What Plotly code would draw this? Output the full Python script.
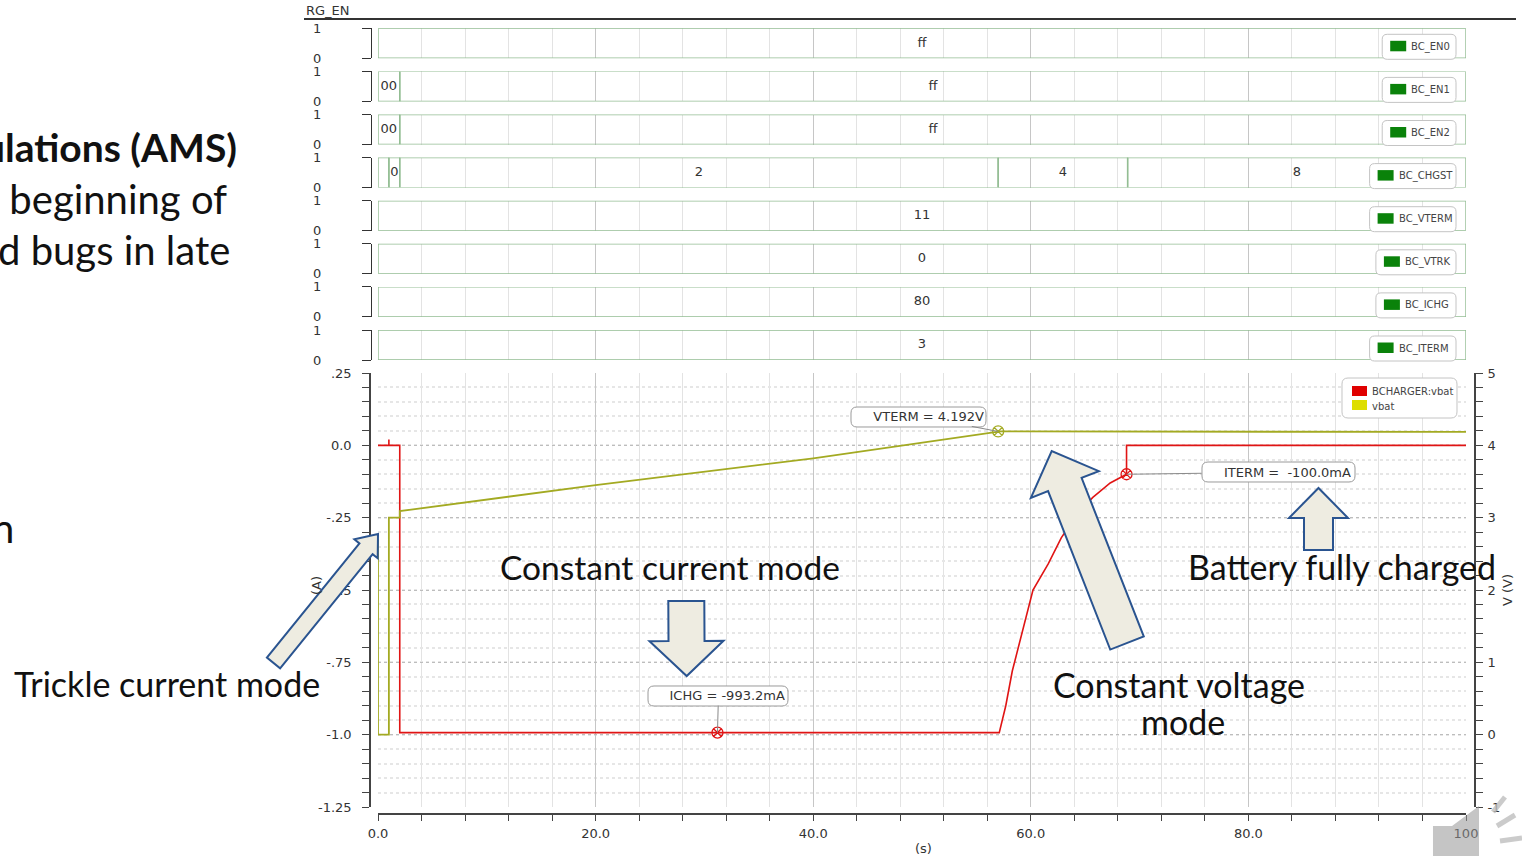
import math
import plotly.graph_objects as go

# ---------------- data ----------------
# analog: charge current (left axis, A) and battery voltage (right axis, V)
t_ichg = [0, 1, 1, 1, 2, 2, 57.1, 57.7, 58.3, 59.3, 60.2, 61.6, 62.8, 64.3, 65.7, 67.3, 68.8, 68.8, 100]
i_chg = [0, 0, 0.02, 0, 0, -0.993, -0.993, -0.90, -0.78, -0.63, -0.50, -0.41, -0.32, -0.235, -0.18, -0.13, -0.10, 0.0, 0.0]

t_vbat = [0, 0, 1, 1, 2, 2, 20, 40, 57.2, 60.5, 60.5, 100]
v_bat = [2.7, 0, 0, 3.0, 3.0, 3.09, 3.45, 3.82, 4.192, 4.192, 4.185, 4.185]

# measurement markers
ichg_mark = (31.2, -0.993)
iterm_mark = (68.8, -0.100)
vterm_mark = (57.0, 4.192)
ichg_label = "ICHG = -993.2mA"
iterm_label = "ITERM =  -100.0mA"
vterm_label = "VTERM = 4.192V"

# digital buses
bus_names = ["BC_EN0", "BC_EN1", "BC_EN2", "BC_CHGST", "BC_VTERM", "BC_VTRK", "BC_ICHG", "BC_ITERM"]
bus_edges = [[0, 100], [0, 2, 100], [0, 2, 100], [0, 1, 2, 57.0, 68.9, 100],
             [0, 100], [0, 100], [0, 100], [0, 100]]
bus_values = [["ff"], ["00", "ff"], ["00", "ff"], ["", "0", "2", "4", "8"],
              ["11"], ["0"], ["80"], ["3"]]

x_tickvals = [0, 20, 40, 60, 80, 100]
x_ticktext = ["0.0", "20.0", "40.0", "60.0", "80.0", "100"]
yl_tickvals = [0.25, 0, -0.25, -0.5, -0.75, -1.0, -1.25]
yl_ticktext = [".25", "0.0", "-.25", "-.5", "-.75", "-1.0", "-1.25"]
yr_tickvals = [5, 4, 3, 2, 1, 0, -1]
yr_ticktext = ["5", "4", "3", "2", "1", "0", "-1"]

# ---------------- geometry helpers ----------------
W, H = 1522, 856


def fx(p):
    return p / W


def fy(p):
    return 1 - p / H


def pt(x, y):
    return f"{fx(x):.5f},{fy(y):.5f}"


def rrect(x0, y0, x1, y1, r):
    return (f"M {pt(x0 + r, y0)} L {pt(x1 - r, y0)} Q {pt(x1, y0)} {pt(x1, y0 + r)} "
            f"L {pt(x1, y1 - r)} Q {pt(x1, y1)} {pt(x1 - r, y1)} L {pt(x0 + r, y1)} "
            f"Q {pt(x0, y1)} {pt(x0, y1 - r)} L {pt(x0, y0 + r)} Q {pt(x0, y0)} {pt(x0 + r, y0)} Z")


def block_arrow(tail, tip, shaft_w, head_w, head_len):
    tx, ty = tail
    px_, py_ = tip
    dx, dy = px_ - tx, py_ - ty
    L = math.hypot(dx, dy)
    ux, uy = dx / L, dy / L
    nx, ny = -uy, ux
    bx, by = px_ - ux * head_len, py_ - uy * head_len
    pts = [
        (tx + nx * shaft_w / 2, ty + ny * shaft_w / 2),
        (bx + nx * shaft_w / 2, by + ny * shaft_w / 2),
        (bx + nx * head_w / 2, by + ny * head_w / 2),
        (px_, py_),
        (bx - nx * head_w / 2, by - ny * head_w / 2),
        (bx - nx * shaft_w / 2, by - ny * shaft_w / 2),
        (tx - nx * shaft_w / 2, ty - ny * shaft_w / 2),
    ]
    return "M " + " L ".join(pt(x, y) for x, y in pts) + " Z"


CHART_FONT = "DejaVu Sans"
SLIDE_FONT = "Lato"
RED = "#e01414"
OLIVE = "#a3aa22"
BUS_GREEN = "#93bd93"

fig = go.Figure()

# ---------------- analog traces ----------------
fig.add_trace(go.Scatter(x=t_ichg, y=i_chg, mode="lines", line=dict(color=RED, width=1.6),
                         xaxis="x", yaxis="y", hoverinfo="skip"))
fig.add_trace(go.Scatter(x=t_vbat, y=v_bat, mode="lines", line=dict(color=OLIVE, width=1.8),
                         xaxis="x", yaxis="y2", hoverinfo="skip"))
fig.add_trace(go.Scatter(x=[ichg_mark[0], iterm_mark[0]], y=[ichg_mark[1], iterm_mark[1]], mode="markers",
                         marker=dict(symbol="circle-x-open", size=11, color=RED, line=dict(width=1.3)),
                         xaxis="x", yaxis="y", hoverinfo="skip"))
fig.add_trace(go.Scatter(x=[vterm_mark[0]], y=[vterm_mark[1]], mode="markers",
                         marker=dict(symbol="circle-x-open", size=11, color=OLIVE, line=dict(width=1.3)),
                         xaxis="x", yaxis="y2", hoverinfo="skip"))

# ---------------- digital bus traces ----------------
row_top0, row_pitch, row_h = 28.3, 43.1, 30.0
layout_axes = {}
for i, (name, edges, vals) in enumerate(zip(bus_names, bus_edges, bus_values)):
    ax_id = i + 3
    yname = f"y{ax_id}"
    xs, ys, tx, tt = [], [], [], []
    for k in range(len(vals)):
        a, b = edges[k], edges[k + 1]
        xs += [a, b, b, a, a, None]
        ys += [0, 0, 1, 1, 0, None]
        tx.append((a + b) / 2)
        tt.append(vals[k])
    fig.add_trace(go.Scatter(x=xs, y=ys, mode="lines", line=dict(color=BUS_GREEN, width=1.4),
                             xaxis="x", yaxis=yname, hoverinfo="skip"))
    fig.add_trace(go.Scatter(x=tx, y=[0.5] * len(tx), text=tt, mode="text",
                             textfont=dict(family=CHART_FONT, size=13, color="#333"),
                             xaxis="x", yaxis=yname, hoverinfo="skip"))
    top = row_top0 + i * row_pitch
    layout_axes[f"yaxis{ax_id}"] = dict(
        domain=[fy(top + row_h), fy(top)], range=[0, 1], anchor="free", position=fx(371),
        tickmode="array", tickvals=[0, 1], ticktext=["0", "1"], ticks="outside", ticklen=9,
        tickcolor="#333", showline=True, linecolor="#333", linewidth=1.2, showgrid=False,
        zeroline=False, ticklabelstandoff=38, tickfont=dict(family=CHART_FONT, size=13, color="#333"),
        automargin=False, fixedrange=True)

shapes = []
annotations = []

# legends on digital rows
for i, name in enumerate(bus_names):
    top = row_top0 + i * row_pitch
    tw = len(name) * 6.3
    x1 = 1456
    x0 = x1 - (tw + 36)
    y0, y1 = top + 6, top + 31
    shapes.append(dict(type="path", path=rrect(x0, y0, x1, y1, 5), xref="paper", yref="paper",
                       line=dict(color="#c4c4c4", width=1), fillcolor="white", layer="above"))
    shapes.append(dict(type="rect", xref="paper", yref="paper", x0=fx(x0 + 8), x1=fx(x0 + 24),
                       y0=fy(y0 + 17), y1=fy(y0 + 6.5), fillcolor="#0a820a", line=dict(width=0),
                       layer="above"))
    annotations.append(dict(text=name, xref="paper", yref="paper", x=fx(x0 + 27), y=fy(y0 + 12.5),
                            xanchor="left", yanchor="middle", showarrow=False,
                            font=dict(family=CHART_FONT, size=10, color="#444")))

# main legend
shapes.append(dict(type="path", path=rrect(1342, 378, 1457, 418, 6), xref="paper", yref="paper",
                   line=dict(color="#c4c4c4", width=1), fillcolor="white", layer="above"))
shapes.append(dict(type="rect", xref="paper", yref="paper", x0=fx(1352), x1=fx(1367), y0=fy(396), y1=fy(386),
                   fillcolor="#e00000", line=dict(width=0), layer="above"))
shapes.append(dict(type="rect", xref="paper", yref="paper", x0=fx(1352), x1=fx(1367), y0=fy(410), y1=fy(400),
                   fillcolor="#dede00", line=dict(width=0), layer="above"))
annotations.append(dict(text="BCHARGER:vbat", xref="paper", yref="paper", x=fx(1370), y=fy(392),
                        xanchor="left", yanchor="middle", showarrow=False,
                        font=dict(family=CHART_FONT, size=10, color="#444")))
annotations.append(dict(text="vbat", xref="paper", yref="paper", x=fx(1370), y=fy(406),
                        xanchor="left", yanchor="middle", showarrow=False,
                        font=dict(family=CHART_FONT, size=10, color="#444")))

# measurement callouts (rounded boxes drawn as shapes behind transparent annotation boxes)
for bx0, by0, bx1, by1 in [(851, 407, 986, 427), (648, 686, 788, 706), (1202, 462, 1355, 482)]:
    shapes.append(dict(type="path", path=rrect(bx0, by0, bx1, by1, 6), xref="paper", yref="paper",
                       line=dict(color="#9a9a9a", width=1), fillcolor="white", layer="above"))
callout = dict(showarrow=True, arrowhead=0, arrowwidth=1, arrowcolor="#8a8a8a",
               bordercolor="rgba(0,0,0,0)", borderwidth=1, borderpad=2, bgcolor="rgba(0,0,0,0)",
               align="right", font=dict(family=CHART_FONT, size=13, color="#333"))
annotations.append(dict(callout, x=ichg_mark[0], y=ichg_mark[1], xref="x", yref="y", text=ichg_label,
                        ax=1, ay=-37, width=134))
annotations.append(dict(callout, x=iterm_mark[0], y=iterm_mark[1], xref="x", yref="y", text=iterm_label,
                        ax=151, ay=-2, width=147))
annotations.append(dict(callout, x=vterm_mark[0], y=vterm_mark[1], xref="x", yref="y2", text=vterm_label,
                        ax=-79, ay=-15, width=130))

# axis titles
annotations.append(dict(text="(A)", xref="paper", yref="paper", x=fx(316), y=fy(586), textangle=-90,
                        showarrow=False, xanchor="center", yanchor="middle",
                        font=dict(family=CHART_FONT, size=13, color="#333")))
annotations.append(dict(text="V (V)", xref="paper", yref="paper", x=fx(1507), y=fy(590), textangle=-90,
                        showarrow=False, xanchor="center", yanchor="middle",
                        font=dict(family=CHART_FONT, size=13, color="#333")))
annotations.append(dict(text="(s)", xref="paper", yref="paper", x=fx(923), y=fy(848),
                        showarrow=False, xanchor="center", yanchor="middle",
                        font=dict(family=CHART_FONT, size=13, color="#333")))
annotations.append(dict(text="RG_EN", xref="paper", yref="paper", x=fx(304), y=fy(11),
                        showarrow=False, xanchor="left", yanchor="middle",
                        font=dict(family=CHART_FONT, size=13, color="#333")))
shapes.append(dict(type="line", xref="paper", yref="paper", x0=fx(304), x1=fx(1516), y0=fy(19), y1=fy(19),
                   line=dict(color="#333", width=2)))

# slide block arrows
ARROW_FILL = "#eeece1"
ARROW_LINE = "#2a5490"
for tail, tip, sw, hw, hl in [
    ((273.5, 663), (378, 534), 17, 30, 19),
    ((686.3, 601), (686.7, 676), 36, 74, 35),
    ((1127, 643), (1051.7, 451), 36, 73, 36),
    ((1318.5, 550), (1318.5, 488), 29, 59, 30),
]:
    shapes.append(dict(type="path", path=block_arrow(tail, tip, sw, hw, hl), xref="paper", yref="paper",
                       fillcolor=ARROW_FILL, line=dict(color=ARROW_LINE, width=2), layer="above"))

# speaker icon (slide audio)
shapes.append(dict(type="path", xref="paper", yref="paper", layer="above",
                   path=f"M {pt(1433, 826)} L {pt(1452, 826)} L {pt(1479, 806)} L {pt(1479, 860)} L {pt(1433, 860)} Z",
                   fillcolor="rgba(150,150,150,0.55)", line=dict(width=0)))
for (a, b) in [((1493, 812), (1505, 797)), ((1497, 826), (1515, 815)), ((1500, 841), (1522, 838))]:
    shapes.append(dict(type="line", xref="paper", yref="paper", layer="above",
                       x0=fx(a[0]), y0=fy(a[1]), x1=fx(b[0]), y1=fy(b[1]),
                       line=dict(color="rgba(190,190,190,0.8)", width=5)))

# slide text
def slide_text(text, x, y, anchor="center", size=34, weight=400):
    annotations.append(dict(text=text, xref="paper", yref="paper", x=fx(x), y=fy(y), showarrow=False,
                            xanchor=anchor, yanchor="middle",
                            font=dict(family=SLIDE_FONT, size=size, color="#111", weight=weight)))


slide_text("ulations (AMS)", 239, 147, anchor="right", size=39, weight=700)
slide_text("e beginning of", 229, 199, anchor="right", size=40)
slide_text("d bugs in late", 232, 250, anchor="right", size=40)
slide_text("n", 16, 528, anchor="right", size=40)
slide_text("Trickle current mode", 167, 683, size=34)
slide_text("Constant current mode", 670, 567, size=33.5)
slide_text("Battery fully charged", 1342, 566, size=34)
slide_text("Constant voltage", 1179, 684, size=34)
slide_text("mode", 1183, 721, size=34)

fig.update_layout(
    width=W, height=H, margin=dict(l=0, r=0, t=0, b=0, autoexpand=False),
    paper_bgcolor="white", plot_bgcolor="white", showlegend=False,
    font=dict(family=CHART_FONT, size=13, color="#333"),
    xaxis=dict(domain=[fx(378), fx(1466)], range=[0, 100], anchor="free", position=fy(814),
               tickmode="array", tickvals=x_tickvals, ticktext=x_ticktext, ticks="outside", ticklen=6,
               tickcolor="#444", showline=True, linecolor="#444", linewidth=1.6, zeroline=False,
               showgrid=True, gridcolor="#c6c6c6", gridwidth=1, ticklabelstandoff=2, automargin=False,
               minor=dict(tickmode="linear", tick0=0, dtick=4, ticks="outside", ticklen=6, tickcolor="#444",
                          showgrid=True, gridcolor="#e3e3e3", gridwidth=1),
               fixedrange=True),
    yaxis=dict(domain=[fy(807), fy(373)], range=[-1.25, 0.25], anchor="free", position=fx(370),
               tickmode="array", tickvals=yl_tickvals, ticktext=yl_ticktext, ticks="outside", ticklen=7,
               tickcolor="#444", showline=True, linecolor="#444", linewidth=1.6, zeroline=False,
               showgrid=True, gridcolor="#bdbdbd", griddash="dot", gridwidth=1, ticklabelstandoff=8,
               automargin=False,
               minor=dict(tickmode="linear", tick0=0, dtick=0.05, ticks="outside", ticklen=7, tickcolor="#444",
                          showgrid=True, gridcolor="#e6e6e6", gridwidth=1.5),
               fixedrange=True),
    yaxis2=dict(overlaying="y", side="right", range=[-1, 5], anchor="free", position=fx(1475),
                tickmode="array", tickvals=yr_tickvals, ticktext=yr_ticktext, ticks="outside", ticklen=7,
                tickcolor="#444", showline=True, linecolor="#444", linewidth=1.6, zeroline=False,
                showgrid=False, ticklabelstandoff=2, automargin=False,
                minor=dict(tickmode="linear", tick0=0, dtick=0.2, ticks="outside", ticklen=7, tickcolor="#444"),
                fixedrange=True),
    shapes=shapes,
    annotations=annotations,
    **layout_axes,
)

fig.write_html(
    "out.html",
    config={"displayModeBar": False},
    post_script="document.body.style.margin='0';document.documentElement.style.overflow='hidden';",
)
